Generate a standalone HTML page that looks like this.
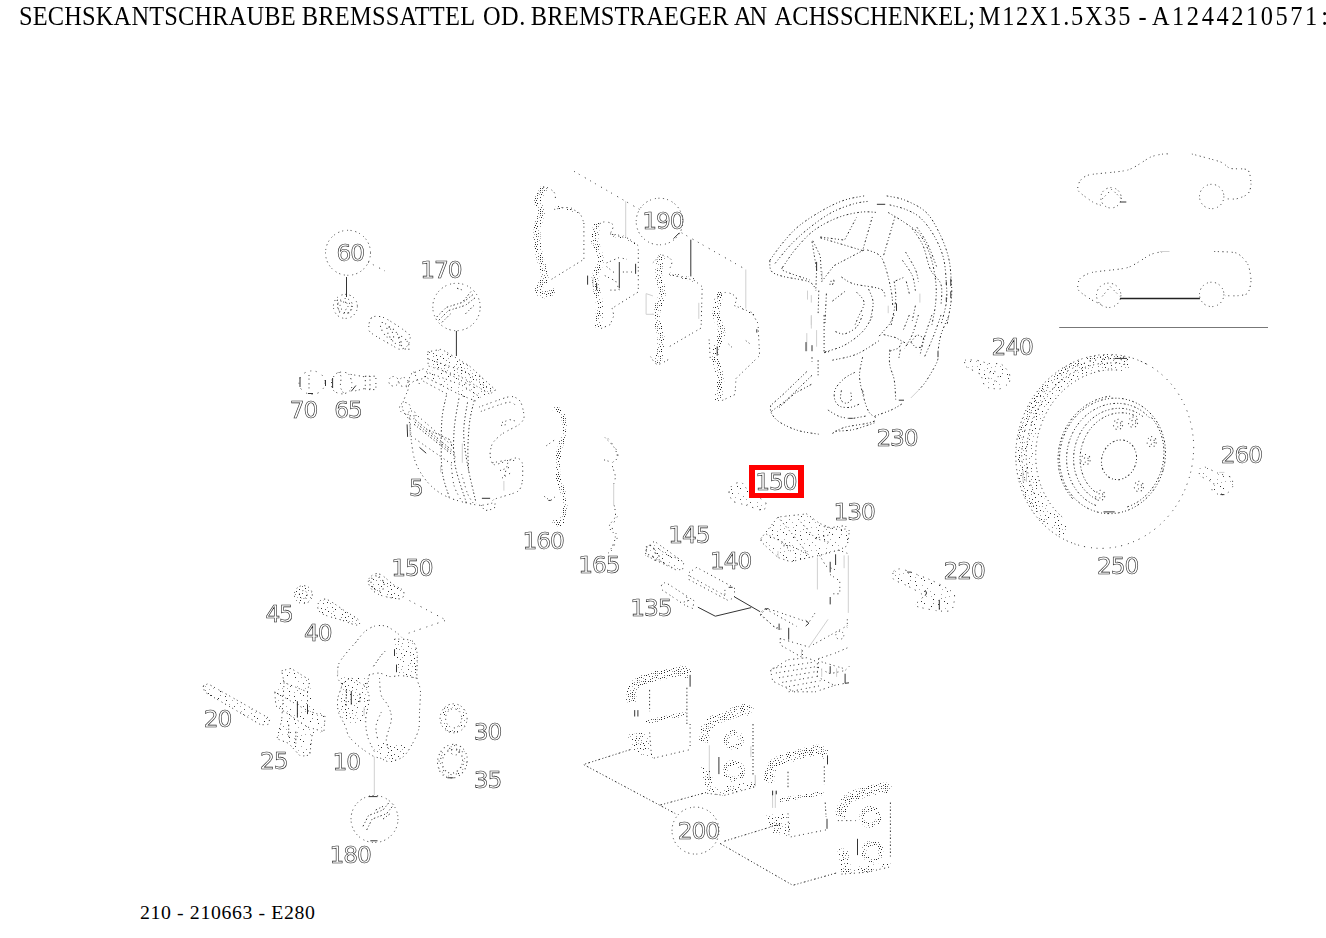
<!DOCTYPE html>
<html lang="de"><head><meta charset="utf-8"><title>SECHSKANTSCHRAUBE</title>
<style>
html,body{margin:0;padding:0;background:#fff;}
body{width:1326px;height:938px;overflow:hidden;position:relative;font-family:"Liberation Serif",serif;color:#000;}
h2{position:absolute;left:0;top:0;width:1326px;height:40px;margin:0;font-size:24.4px;line-height:28px;font-weight:normal;white-space:nowrap;transform:scaleY(1.1);transform-origin:0 25px;}
h2 span{position:absolute;top:3px;white-space:nowrap}
.foot{position:absolute;left:140px;top:901px;font-size:19.8px;line-height:22px;letter-spacing:0.62px;white-space:nowrap;}
svg{position:absolute;left:0;top:0;filter:grayscale(1);}
.hl{position:absolute;left:749px;top:465px;width:43px;height:23px;border:5px solid #f00;border-left-width:6px;border-right-width:6px;}
.lb text{font-family:"DejaVu Sans",sans-serif;font-size:23.3px;letter-spacing:-1.1px;fill:#fff;stroke:#222;stroke-width:0.6px;}
.d{fill:none;stroke:#3a3a3a;stroke-width:1;stroke-dasharray:1 2.6 1 3.6 1.2 3 1 4;}
.d2{fill:none;stroke:#333;stroke-width:1;stroke-dasharray:1.5 2.5 1 2;}
.d3{fill:none;stroke:#444;stroke-width:1;stroke-dasharray:1 4.5 1 6 1.2 5;}
.b{fill:none;stroke:url(#st0);stroke-width:7;stroke-linecap:round}
.b3{fill:none;stroke:url(#st);stroke-width:3.5;}
.bw{fill:none;stroke:url(#st);stroke-width:12;}
.f2{fill:url(#st2);stroke:none}
.bl{fill:none;stroke:url(#st2);stroke-width:15;}
.f1{fill:url(#st2);stroke:none}
.f0{fill:url(#st);stroke:none}
.f3{fill:url(#st3);stroke:none}
.b5{fill:none;stroke:url(#st0);stroke-width:5;}
.b7{fill:none;stroke:url(#st);stroke-width:7.5;}
.b4{fill:none;stroke:url(#st0);stroke-width:4;}
.b9{fill:none;stroke:url(#st0);stroke-width:10;}
.dp{fill:none;stroke:#2a2a2a;stroke-width:1;stroke-dasharray:1.8 2.2 1 2.2 1 2.4;}
.s{fill:none;stroke:#333;stroke-width:1;}
.t{fill:none;stroke:#d0d0d0;stroke-width:1;}
</style></head><body>
<h2><span style="left:19.0px;letter-spacing:0.181px">SECHSKANTSCHRAUBE</span> <span style="left:301.8px;letter-spacing:0.25px">BREMSSATTEL</span> <span style="left:483.0px;letter-spacing:0.5px">OD.</span> <span style="left:530.8px;letter-spacing:0.227px">BREMSTRAEGER</span> <span style="left:734.0px;letter-spacing:-2.0px">AN</span> <span style="left:774.6px;letter-spacing:0.092px">ACHSSCHENKEL;</span> <span style="left:978.8px;letter-spacing:1.711px">M12X1.5X35</span> <span style="left:1138.4px;letter-spacing:0.0px">-</span> <span style="left:1151.9px;letter-spacing:2.58px">A1244210571</span> <span style="left:1321.2px;letter-spacing:0.0px">:</span></h2>
<svg width="1326" height="938" viewBox="0 0 1326 938">
<defs><pattern id="st" width="23" height="23" patternUnits="userSpaceOnUse"><rect x="0" y="9" width="1" height="1" fill="#333"/><rect x="0" y="21" width="1" height="1" fill="#aaa"/><rect x="1" y="12" width="1" height="1" fill="#222"/><rect x="2" y="5" width="1" height="1" fill="#555"/><rect x="3" y="2" width="1" height="1" fill="#222"/><rect x="3" y="19" width="1" height="1" fill="#888"/><rect x="3" y="22" width="1" height="1" fill="#888"/><rect x="4" y="7" width="1" height="1" fill="#888"/><rect x="4" y="12" width="1" height="1" fill="#888"/><rect x="6" y="22" width="1" height="1" fill="#333"/><rect x="7" y="1" width="1" height="1" fill="#222"/><rect x="7" y="10" width="1" height="1" fill="#888"/><rect x="7" y="18" width="1" height="1" fill="#222"/><rect x="8" y="15" width="1" height="1" fill="#888"/><rect x="8" y="21" width="1" height="1" fill="#888"/><rect x="9" y="0" width="1" height="1" fill="#aaa"/><rect x="9" y="13" width="1" height="1" fill="#222"/><rect x="10" y="11" width="1" height="1" fill="#888"/><rect x="10" y="17" width="1" height="1" fill="#555"/><rect x="11" y="3" width="1" height="1" fill="#333"/><rect x="11" y="8" width="1" height="1" fill="#aaa"/><rect x="11" y="19" width="1" height="1" fill="#222"/><rect x="11" y="21" width="1" height="1" fill="#555"/><rect x="13" y="9" width="1" height="1" fill="#222"/><rect x="13" y="13" width="1" height="1" fill="#222"/><rect x="13" y="18" width="1" height="1" fill="#222"/><rect x="13" y="20" width="1" height="1" fill="#aaa"/><rect x="14" y="4" width="1" height="1" fill="#222"/><rect x="15" y="0" width="1" height="1" fill="#888"/><rect x="15" y="2" width="1" height="1" fill="#333"/><rect x="15" y="6" width="1" height="1" fill="#888"/><rect x="15" y="8" width="1" height="1" fill="#222"/><rect x="15" y="17" width="1" height="1" fill="#aaa"/><rect x="15" y="20" width="1" height="1" fill="#333"/><rect x="16" y="12" width="1" height="1" fill="#888"/><rect x="17" y="4" width="1" height="1" fill="#888"/><rect x="17" y="7" width="1" height="1" fill="#aaa"/><rect x="17" y="15" width="1" height="1" fill="#333"/><rect x="17" y="18" width="1" height="1" fill="#555"/><rect x="18" y="2" width="1" height="1" fill="#333"/><rect x="18" y="20" width="1" height="1" fill="#333"/><rect x="19" y="0" width="1" height="1" fill="#888"/><rect x="19" y="8" width="1" height="1" fill="#555"/><rect x="19" y="12" width="1" height="1" fill="#222"/><rect x="20" y="4" width="1" height="1" fill="#888"/><rect x="20" y="6" width="1" height="1" fill="#aaa"/><rect x="20" y="18" width="1" height="1" fill="#222"/><rect x="20" y="20" width="1" height="1" fill="#333"/><rect x="21" y="0" width="1" height="1" fill="#555"/><rect x="22" y="7" width="1" height="1" fill="#222"/><rect x="22" y="13" width="1" height="1" fill="#555"/><rect x="22" y="18" width="1" height="1" fill="#aaa"/></pattern><pattern id="st2" width="23" height="23" patternUnits="userSpaceOnUse"><rect x="0" y="14" width="1" height="1" fill="#222"/><rect x="0" y="19" width="1" height="1" fill="#222"/><rect x="1" y="2" width="1" height="1" fill="#222"/><rect x="1" y="5" width="1" height="1" fill="#555"/><rect x="1" y="22" width="1" height="1" fill="#333"/><rect x="3" y="11" width="1" height="1" fill="#555"/><rect x="3" y="18" width="1" height="1" fill="#555"/><rect x="4" y="0" width="1" height="1" fill="#aaa"/><rect x="5" y="4" width="1" height="1" fill="#333"/><rect x="5" y="9" width="1" height="1" fill="#aaa"/><rect x="6" y="13" width="1" height="1" fill="#222"/><rect x="7" y="0" width="1" height="1" fill="#aaa"/><rect x="7" y="20" width="1" height="1" fill="#333"/><rect x="8" y="5" width="1" height="1" fill="#888"/><rect x="9" y="15" width="1" height="1" fill="#888"/><rect x="10" y="2" width="1" height="1" fill="#aaa"/><rect x="10" y="9" width="1" height="1" fill="#555"/><rect x="11" y="13" width="1" height="1" fill="#aaa"/><rect x="11" y="22" width="1" height="1" fill="#888"/><rect x="12" y="5" width="1" height="1" fill="#aaa"/><rect x="12" y="17" width="1" height="1" fill="#555"/><rect x="13" y="11" width="1" height="1" fill="#222"/><rect x="15" y="7" width="1" height="1" fill="#222"/><rect x="17" y="2" width="1" height="1" fill="#555"/><rect x="17" y="21" width="1" height="1" fill="#888"/><rect x="19" y="8" width="1" height="1" fill="#555"/><rect x="19" y="11" width="1" height="1" fill="#888"/><rect x="19" y="19" width="1" height="1" fill="#888"/><rect x="20" y="4" width="1" height="1" fill="#aaa"/><rect x="20" y="16" width="1" height="1" fill="#333"/><rect x="21" y="22" width="1" height="1" fill="#aaa"/><rect x="22" y="10" width="1" height="1" fill="#333"/></pattern><pattern id="st3" width="23" height="23" patternUnits="userSpaceOnUse"><rect x="1" y="3" width="1" height="1" fill="#333"/><rect x="2" y="10" width="1" height="1" fill="#aaa"/><rect x="2" y="22" width="1" height="1" fill="#aaa"/><rect x="4" y="5" width="1" height="1" fill="#333"/><rect x="4" y="16" width="1" height="1" fill="#555"/><rect x="6" y="21" width="1" height="1" fill="#aaa"/><rect x="7" y="13" width="1" height="1" fill="#888"/><rect x="10" y="16" width="1" height="1" fill="#aaa"/><rect x="11" y="8" width="1" height="1" fill="#222"/><rect x="11" y="21" width="1" height="1" fill="#aaa"/><rect x="13" y="1" width="1" height="1" fill="#222"/><rect x="13" y="5" width="1" height="1" fill="#888"/><rect x="14" y="19" width="1" height="1" fill="#555"/><rect x="18" y="2" width="1" height="1" fill="#aaa"/><rect x="18" y="6" width="1" height="1" fill="#333"/><rect x="19" y="10" width="1" height="1" fill="#333"/><rect x="21" y="0" width="1" height="1" fill="#888"/><rect x="21" y="19" width="1" height="1" fill="#aaa"/><rect x="22" y="14" width="1" height="1" fill="#aaa"/></pattern><pattern id="st0" width="23" height="23" patternUnits="userSpaceOnUse"><rect x="0" y="4" width="1" height="1" fill="#333"/><rect x="0" y="8" width="1" height="1" fill="#555"/><rect x="0" y="16" width="1" height="1" fill="#222"/><rect x="0" y="19" width="1" height="1" fill="#888"/><rect x="1" y="0" width="1" height="1" fill="#888"/><rect x="1" y="12" width="1" height="1" fill="#333"/><rect x="1" y="14" width="1" height="1" fill="#222"/><rect x="2" y="3" width="1" height="1" fill="#222"/><rect x="2" y="8" width="1" height="1" fill="#222"/><rect x="2" y="16" width="1" height="1" fill="#888"/><rect x="4" y="2" width="1" height="1" fill="#aaa"/><rect x="4" y="7" width="1" height="1" fill="#555"/><rect x="4" y="14" width="1" height="1" fill="#222"/><rect x="4" y="18" width="1" height="1" fill="#333"/><rect x="4" y="22" width="1" height="1" fill="#aaa"/><rect x="5" y="4" width="1" height="1" fill="#aaa"/><rect x="5" y="9" width="1" height="1" fill="#555"/><rect x="5" y="16" width="1" height="1" fill="#555"/><rect x="5" y="20" width="1" height="1" fill="#333"/><rect x="6" y="1" width="1" height="1" fill="#222"/><rect x="6" y="12" width="1" height="1" fill="#555"/><rect x="6" y="14" width="1" height="1" fill="#333"/><rect x="6" y="18" width="1" height="1" fill="#222"/><rect x="7" y="4" width="1" height="1" fill="#555"/><rect x="7" y="6" width="1" height="1" fill="#555"/><rect x="7" y="16" width="1" height="1" fill="#333"/><rect x="7" y="21" width="1" height="1" fill="#333"/><rect x="8" y="9" width="1" height="1" fill="#555"/><rect x="8" y="11" width="1" height="1" fill="#555"/><rect x="8" y="14" width="1" height="1" fill="#555"/><rect x="8" y="19" width="1" height="1" fill="#222"/><rect x="9" y="0" width="1" height="1" fill="#aaa"/><rect x="9" y="3" width="1" height="1" fill="#555"/><rect x="9" y="6" width="1" height="1" fill="#888"/><rect x="10" y="10" width="1" height="1" fill="#aaa"/><rect x="11" y="2" width="1" height="1" fill="#333"/><rect x="11" y="4" width="1" height="1" fill="#333"/><rect x="11" y="6" width="1" height="1" fill="#333"/><rect x="11" y="8" width="1" height="1" fill="#888"/><rect x="11" y="13" width="1" height="1" fill="#555"/><rect x="11" y="16" width="1" height="1" fill="#222"/><rect x="11" y="19" width="1" height="1" fill="#aaa"/><rect x="12" y="0" width="1" height="1" fill="#555"/><rect x="12" y="10" width="1" height="1" fill="#222"/><rect x="13" y="4" width="1" height="1" fill="#555"/><rect x="13" y="6" width="1" height="1" fill="#aaa"/><rect x="13" y="8" width="1" height="1" fill="#555"/><rect x="13" y="15" width="1" height="1" fill="#aaa"/><rect x="13" y="17" width="1" height="1" fill="#333"/><rect x="13" y="21" width="1" height="1" fill="#888"/><rect x="14" y="2" width="1" height="1" fill="#888"/><rect x="14" y="11" width="1" height="1" fill="#aaa"/><rect x="15" y="6" width="1" height="1" fill="#555"/><rect x="15" y="17" width="1" height="1" fill="#888"/><rect x="15" y="22" width="1" height="1" fill="#888"/><rect x="16" y="1" width="1" height="1" fill="#333"/><rect x="16" y="11" width="1" height="1" fill="#333"/><rect x="16" y="13" width="1" height="1" fill="#555"/><rect x="16" y="15" width="1" height="1" fill="#555"/><rect x="17" y="4" width="1" height="1" fill="#222"/><rect x="17" y="6" width="1" height="1" fill="#222"/><rect x="17" y="18" width="1" height="1" fill="#222"/><rect x="17" y="20" width="1" height="1" fill="#888"/><rect x="18" y="10" width="1" height="1" fill="#555"/><rect x="18" y="13" width="1" height="1" fill="#aaa"/><rect x="18" y="15" width="1" height="1" fill="#aaa"/><rect x="18" y="22" width="1" height="1" fill="#888"/><rect x="19" y="1" width="1" height="1" fill="#555"/><rect x="19" y="17" width="1" height="1" fill="#333"/><rect x="20" y="3" width="1" height="1" fill="#333"/><rect x="20" y="5" width="1" height="1" fill="#222"/><rect x="20" y="8" width="1" height="1" fill="#888"/><rect x="20" y="10" width="1" height="1" fill="#333"/><rect x="20" y="14" width="1" height="1" fill="#888"/><rect x="21" y="17" width="1" height="1" fill="#555"/><rect x="21" y="19" width="1" height="1" fill="#333"/><rect x="21" y="21" width="1" height="1" fill="#555"/><rect x="22" y="2" width="1" height="1" fill="#888"/><rect x="22" y="11" width="1" height="1" fill="#aaa"/><rect x="22" y="14" width="1" height="1" fill="#555"/></pattern></defs>
<g class="lb" opacity="0.99">
<text x="336.5" y="260.6">60</text>
<text x="420.2" y="278.4">170</text>
<text x="642.3" y="229.4">190</text>
<text x="289.8" y="417.5">70</text>
<text x="334.3" y="417.5">65</text>
<text x="409.1" y="496.4">5</text>
<text x="522.5" y="549.1">160</text>
<text x="578.2" y="573.4">165</text>
<text x="755.2" y="490">150</text>
<text x="833.6" y="519.6">130</text>
<text x="668.2" y="543.1">145</text>
<text x="710.1" y="568.7">140</text>
<text x="630.2" y="615.5">135</text>
<text x="943.5" y="579.4">220</text>
<text x="876.4" y="445.8">230</text>
<text x="991.5" y="354.6">240</text>
<text x="1097.0" y="574">250</text>
<text x="1220.7" y="463.4">260</text>
<text x="391.2" y="575.5">150</text>
<text x="265.4" y="622">45</text>
<text x="304.0" y="641">40</text>
<text x="203.8" y="726.5">20</text>
<text x="260.1" y="768.7">25</text>
<text x="332.6" y="769.8">10</text>
<text x="473.8" y="740.3">30</text>
<text x="473.8" y="787.6">35</text>
<text x="329.6" y="862.6">180</text>
<text x="677.8" y="838.7">200</text>
</g>
<circle class="d" cx="348" cy="252.8" r="22.5"/>
<path class="d3" d="M368 262 L385 271"/>
<path class="s" d="M346.5 277 L346.5 297"/>
<circle class="d" cx="345.4" cy="306.4" r="12"/>
<circle class="d" cx="345" cy="306" r="7.5"/>
<circle class="d" cx="344" cy="306" r="4"/>
<path class="d" d="M337 300 L352 304 L350 313 L339 312 Z"/>
<path class="d" d="M371.2 318.1 C372.9 316.2 376 316.1 378.8 316.4 C381.6 316.7 383.3 317.1 388.2 319.9 C393.1 322.7 404.5 330.2 408.1 333.4 C411.7 336.6 410.1 337 409.9 339.2 C409.7 341.4 408.7 344.6 406.9 346.3 C405.1 348 401.8 349.4 399.3 349.2 C396.8 349 396.3 347.7 391.7 345.1 C387.1 342.5 375.6 336.3 371.8 333.4 C368 330.5 368.9 330.1 368.8 327.5 C368.7 324.9 369.5 320 371.2 318.1 Z"/>
<ellipse class="d" cx="387" cy="331" rx="4" ry="10" transform="rotate(-35 387 331)"/>
<ellipse class="d" cx="394" cy="336" rx="4" ry="11" transform="rotate(-35 394 336)"/>
<ellipse class="d" cx="404" cy="343" rx="3.5" ry="8" transform="rotate(-35 404 343)"/>
<ellipse class="d3" cx="312" cy="382.6" rx="13" ry="11.7"/>
<path class="s" d="M300 377 L300 387"/>
<path class="s" d="M325.5 380 L325.5 386"/>
<path class="s" d="M308 393.5 L313 393.5"/>
<path class="d" d="M309 375 L309 392"/>
<path class="d" d="M331.9 380.3 C332.5 378.1 334 375.8 335.4 374.4 C336.8 373 338 372.2 340.1 372.1 C342.2 372 346.4 372.1 348.3 373.8 C350.2 375.6 351.4 380 351.8 382.6 C352.2 385.2 352.1 387.7 350.7 389.6 C349.3 391.5 346.2 393.4 343.6 393.8 C341.1 394.2 337.3 393.1 335.4 392 C333.4 390.9 332.5 389.2 331.9 387.3 C331.3 385.4 331.3 382.5 331.9 380.3 Z"/>
<path class="d" d="M338.9 372.1 L341.3 376.8 L340.1 387.3 L343.6 393.2"/>
<path class="s" d="M351.2 391.4 L355.9 385.5"/>
<path class="s" d="M332.6 378 L332.6 388"/>
<path class="d" d="M350.7 374.4 L364.7 376.8"/>
<path class="d" d="M355.3 390.8 L364.7 388.5"/>
<path class="d" d="M365.3 376.2 L375.9 376.2 L375.9 389.6 L365.3 389.6 Z"/>
<path class="d" d="M370 376 L370 390"/>
<circle class="d" cx="456.5" cy="307" r="23.7"/>
<path class="d2" d="M436.7 317 L446.3 307.4 L463.4 302.1 L473 294.6"/>
<path class="d2" d="M438.8 320.2 L448.4 310.6 L465.5 305.3 L475.1 297.8"/>
<path class="d2" d="M457 288.2 L463.4 290.4"/>
<path class="d2" d="M463.4 301 L471.9 290.4"/>
<path class="d2" d="M465.5 313.8 L474 305.3"/>
<path class="d2" d="M442 322.3 L450.6 313.8"/>
<path class="s" d="M456.4 331 L456.4 356"/>
<path class="d" d="M427.6 351.9 L441.6 349.2 L469.4 365.9 L495.9 390.3 L489.6 394.1 L460.8 376.5 L428.2 365.9 Z"/>
<path class="f2" d="M428.2 352.5 L441.6 350 L469.4 366.5 L495.3 390.3 L489.6 393.7 L460.8 376.1 L428.7 365.3 Z"/>
<path class="f3" d="M424.3 368.8 L461.7 377.4 L489.6 394.7 L477.1 401.8 L461.7 396 L424.3 378 Z"/>
<path class="d" d="M428.7 359.2 L465.6 371.7 L492.4 391.8"/>
<path class="d" d="M426.2 371.7 L461.7 385.1 L480.9 397.6"/>
<path class="d" d="M442.6 370.7 L475.2 388"/>
<path class="d" d="M423.4 368.8 L409.9 374.5 L408 389.9"/>
<path class="d" d="M424.3 376.5 L461.7 395.6 L477.1 401.4"/>
<path class="d" d="M423.4 381.2 L448.3 394.7"/>
<path class="d" d="M413.8 371.7 L419.5 384.1"/>
<circle class="d" cx="393.6" cy="381.3" r="4.8"/>
<circle class="d" cx="403.5" cy="382" r="4.5"/>
<circle class="d" cx="405" cy="408" r="5.5"/>
<circle class="d" cx="412" cy="415" r="4"/>
<path class="d" d="M406.1 387 L413.8 381.2 L423.4 378.4"/>
<path class="d" d="M408 389.9 C407.1 392.8 402.1 402 402.3 407.1 C402.5 412.2 407.6 415.5 409 420.6 C410.4 425.7 409.8 430.8 410.9 437.8 C412 444.8 412.7 455.1 415.7 462.8 C418.7 470.5 423.7 478.1 429.1 483.9 C434.5 489.6 440.3 493.8 448.3 497.3 C456.3 500.8 469.8 504 477.1 505 C484.5 506 489.8 503.4 492.4 503.1"/>
<path class="d" d="M479 407.1 C482.6 405.9 504.9 397.3 509.7 396.6 C514.5 395.9 518.6 399.1 520.3 401.4 C522 403.7 524.2 414 524.1 416.7 C524 419.4 521.9 422.4 519.3 424.4 C516.7 426.4 505.1 431.8 502 434 C498.9 436.2 493.8 441.1 492.4 443.6 C491 446.1 489.9 452.6 490.1 455.1 C490.3 457.6 491.4 464.4 494.4 464.7 C497.4 465 512.3 458.2 515.5 458 C518.7 457.8 521.4 460 522.2 462.8 C523 465.6 522.8 478.6 522.2 482 C521.6 485.4 520.6 489.6 517.4 491.6 C514.2 493.6 497.3 497.9 494.4 499.2 C491.5 500.5 492.6 502.6 492.4 503.1"/>
<path class="d" d="M480.9 411.4 C485.4 409.9 502 403.4 507.8 402.4 C513.6 401.4 514.2 404.7 515.5 405.2"/>
<path class="d" d="M502 422.5 L509.7 419.6 L517.4 421.5"/>
<path class="d" d="M501.1 425.4 L507.8 424.4"/>
<path class="d" d="M492.4 462.8 L507.8 459.9 L517.4 460.9"/>
<path class="d" d="M500.1 470.5 L511.6 466.6"/>
<path class="d" d="M502 478.1 L511.6 472.4"/>
<path class="d" d="M507.8 462.8 L503.9 478.1"/>
<path class="d2" d="M446.4 395.6 C445.7 399.1 443.1 408.1 442.2 416.7 C441.3 425.3 441.1 437.8 441.2 447.4 C441.3 457 441.2 466 442.6 474.3 C444 482.6 448.2 493.5 449.3 497.3"/>
<path class="d2" d="M458.9 398.5 C458.1 403.8 454.8 419.2 454.1 430.2 C453.5 441.2 452.9 452.5 455 464.7 C457.1 476.9 464.6 496.7 466.5 503.1"/>
<path class="d2" d="M467.5 402.4 C466.9 407.3 463.7 421.7 463.7 432.1 C463.7 442.5 465.4 452.9 467.5 464.7 C469.6 476.5 474.7 496.7 476.1 503.1"/>
<path class="d2" d="M474.2 400.4 C473.5 403.8 470.9 412.8 469.8 420.6 C468.8 428.4 468.1 439.1 467.9 447.4 C467.7 455.7 468.5 466.6 468.6 470.5"/>
<path class="d" d="M451.2 464.7 C451.7 468.2 452.4 479.7 454.1 485.8 C455.9 491.9 460.4 498.6 461.7 501.2"/>
<path class="d" d="M461.7 474.3 C462.7 477.5 465.6 488.7 467.5 493.5 C469.4 498.3 472.2 501.5 473.2 503.1"/>
<path class="d" d="M409.9 415.8 L417.6 415.8 L453.1 446.5 L455.6 460.9 L450.2 463.2 L410.9 435.9 Z"/>
<path class="d2" d="M415.4 419.8 L452 450.3"/>
<path class="d2" d="M414.8 422 L451.6 452.2"/>
<path class="d2" d="M414.1 424.3 L451.4 454.2"/>
<path class="d2" d="M429.1 430.2 L450.2 439.8 L452.1 447.4"/>
<path class="s" d="M481.9 498.3 L490.1 498.3"/>
<path class="s" d="M419.5 447.4 L426.2 453.2"/>
<path class="t" d="M503.9 481 L503.9 490.6"/>
<path class="t" d="M462.3 443.6 L462.3 462.8"/>
<path class="t" d="M440.6 465.7 L440.6 472.4"/>
<path class="s" d="M407.1 424.4 L407.6 436.9"/>
<path class="t" d="M409.6 424.4 L410.1 436.9"/>
<path class="d" d="M480.9 505 L484.8 510.7 L494.4 508.8 L495.3 502.1"/>
<path class="d3" d="M574 171.3 L641.1 210.3"/>
<path class="t" d="M625.7 201.3 L625.7 237.5"/>
<path class="b" d="M543.1 189.5 C542.2 191.5 538 197.5 537.7 201.3 C537.4 205.1 541.4 207.1 541.3 212.2 C541.1 217.3 537.1 224.8 536.8 232.1 C536.5 239.3 538.1 248.1 539.5 255.7 C540.9 263.2 545 272 544.9 277.4 C544.8 282.8 539 285.4 538.6 288.3 C538.2 291.2 539.9 294.1 542.2 294.7 C544.5 295.3 550.5 292.4 552.2 291.9"/>
<path class="d" d="M537.7 194 C538.9 192.8 542.2 187.4 544.9 187.1 C547.6 186.8 552.2 190.1 554 192.2 C555.8 194.3 555.2 198.3 555.5 199.5"/>
<path class="d" d="M554 209.4 C555.7 209.2 563.3 207.1 566.7 207.6 C570.1 208.1 577.1 211 579.4 213.1 C581.7 215.2 583.3 221.7 583.9 223"/>
<path class="d" d="M583.9 223 L583.9 259.3 L548.6 281.1"/>
<path class="b3" d="M555.8 207.6 C557.9 207.8 564.6 207.6 568.5 208.5 C572.4 209.4 577.6 212.3 579.4 213.1"/>
<path class="b" d="M596.6 225.8 C596.3 228.4 594.2 235.6 594.8 241.2 C595.4 246.8 600.3 252.7 600.3 259.3 C600.3 266 594.9 273.9 594.8 281.1 C594.6 288.4 598.8 295.6 599.4 302.8 C600 310.1 598.6 321 598.4 324.6"/>
<path class="d" d="M593.6 229.4 C595.2 228.2 599.8 222.9 603 222.1 C606.2 221.3 611.8 222.8 613 224.8 C614.2 226.8 610.7 232.4 610.2 233.9"/>
<path class="d" d="M610.2 233.9 L628.4 238.4 L638.3 245.7 L638.3 291.9 L612.1 308.3 L613.9 315.5 L610.2 324.6 L597.5 330"/>
<path class="b3" d="M612.1 234.8 C614.5 235.4 622.7 236.9 626.6 238.4 C630.5 239.9 634.1 243 635.6 243.9"/>
<path class="d" d="M606.6 262.9 L619.3 257.5 L626.6 259.3"/>
<path class="d" d="M604.8 275.6 L615.7 281.1 L619.3 290.1 L610.2 290.1"/>
<path class="d" d="M606.6 266.6 L615.7 273.8"/>
<path class="d" d="M622.9 272 L632 272"/>
<path class="s" d="M619.3 262 L619.3 288.3"/>
<path class="s" d="M635.6 263.8 L635.6 273.8"/>
<path class="s" d="M587.6 275.6 L587.6 284.7"/>
<path class="t" d="M593 277.4 L593 286.5"/>
<path class="s" d="M596.6 282.9 L596.6 290.1"/>
<circle class="d" cx="659.5" cy="221.5" r="23.3"/>
<path class="d3" d="M681.6 232.8 L745.8 269.5"/>
<path class="t" d="M745.8 269.5 L745.8 308.5"/>
<path class="s" d="M690.8 239.7 L690.8 276.4"/>
<path class="s" d="M673.6 238.6 L679.3 232.8"/>
<path class="b" d="M661 258.1 C660.6 261 658.5 269.4 658.7 275.3 C658.9 281.2 662.5 287.1 662.1 293.6 C661.7 300.1 656.6 307 656.4 314.3 C656.2 321.6 660.6 329.6 661 337.2 C661.4 344.8 659.1 356.3 658.7 360.1"/>
<path class="d" d="M652.9 262.7 C654.4 261.5 659 255.7 662.1 255.3 C665.2 254.9 670.5 258 671.7 260.4 C672.9 262.8 669.8 268 669.4 269.5"/>
<path class="d" d="M669 274.1 L694.2 280.3 L702.2 286.7 L701.1 328 L667.8 347.5"/>
<path class="b3" d="M670.1 274.1 C672.6 274.7 680.6 276.5 685 277.6 C689.4 278.8 694.6 280.4 696.5 281"/>
<path class="t" d="M646.1 293.6 L646.1 314.3 L654.1 314.3"/>
<path class="t" d="M646.1 293.6 L652.9 295.9"/>
<path class="t" d="M698.8 302.8 L698.8 318.9"/>
<path class="d" d="M650.6 356.7 C651.8 358 654.4 363.9 657.5 364.3 C660.6 364.7 667.4 359.9 669.4 359"/>
<path class="b" d="M719.9 294.8 C719.2 298.1 715.7 308 716 314.3 C716.3 320.6 721.9 325.7 721.7 332.6 C721.5 339.5 715.1 348 714.9 355.6 C714.7 363.2 720 371.4 720.6 378.5 C721.2 385.6 718.7 394.8 718.3 398"/>
<path class="d" d="M714.4 299.4 C716.2 298.2 721.6 292.9 725.2 292.5 C728.8 292.1 734.5 294.9 736 297.1 C737.5 299.3 734.7 304.2 734.4 305.6"/>
<path class="d" d="M734.4 305.6 L751.6 312.4 L758 323.4 L759.6 355.6 L736 378.5 L735 394.5 L721.7 400.7"/>
<path class="b3" d="M736.7 306.2 C738.4 307 744.1 309.3 747 310.8 C749.9 312.3 752.8 314.6 753.9 315.4"/>
<path class="s" d="M717.2 346.4 L717.2 355.6"/>
<path class="d" d="M709.1 339.5 L710.3 360.1"/>
<path class="d" d="M728.6 344.1 L732.1 347.5"/>
<path class="d" d="M745.8 340.6 L750.4 344.1"/>
<path class="s" d="M756.8 329.2 L756.8 332.6"/>
<path class="dp" d="M769.8 260.4 C771.9 257.5 777.7 248.9 782.6 243.1 C787.5 237.3 792.4 231.2 799.2 225.7 C806 220.2 815.8 214.2 823.3 209.9 C830.8 205.6 837.7 202.4 844.5 200.1 C851.3 197.8 860.8 196.6 864.1 195.9"/>
<path class="dp" d="M886.7 195.9 C889.7 196.6 898.3 197.4 904.8 200.1 C911.3 202.8 920.1 206.6 925.9 212.1 C931.7 217.6 935.7 225.8 939.5 233.3 C943.3 240.9 946.5 249.4 948.5 257.4 C950.5 265.4 950.8 274.5 951.3 281.5 C951.8 288.5 952 292.4 951.3 299.6 C950.6 306.9 947.7 320.8 947 325"/>
<path class="dp" d="M775.1 263.4 C777.6 260.4 784.7 251.1 790.2 245.3 C795.7 239.5 801.5 234.1 808.3 228.7 C815.1 223.3 823.4 217 830.9 212.9 C838.4 208.8 847.2 205.8 853.5 203.9 C859.8 202 866.1 201.7 868.6 201.3"/>
<path class="s" d="M876.9 204.3 L885.2 204.3"/>
<path class="dp" d="M889.7 204.9 C892.2 205.6 899.8 207 904.8 209.1 C909.8 211.2 915.1 213.1 919.9 217.4 C924.7 221.7 929.6 228.1 933.5 234.8 C937.4 241.5 941.2 249.4 943.3 257.4 C945.4 265.4 945.8 275.5 946.3 283 C946.8 290.5 947.2 295.6 946.3 302.6 C945.4 309.6 941.9 321.3 941 325"/>
<path class="dp" d="M782.6 267.2 C784.9 264.1 790.9 254.5 796.2 248.3 C801.5 242.1 807.3 235.3 814.3 230.2 C821.3 225 830.6 220.4 838.4 217.4 C846.2 214.4 854.6 212.9 861.1 212.1 C867.6 211.3 874.9 212.4 877.6 212.5"/>
<path class="dp" d="M888.2 212.5 C891 214.2 899.5 219 904.8 222.7 C910.1 226.4 915.6 229.3 919.9 234.8 C924.2 240.3 927.8 248.1 930.4 255.9 C933 263.7 934.8 273.7 935.7 281.5 C936.6 289.3 936.3 295.4 935.7 302.6 C935.1 309.9 932.5 321.3 931.9 325"/>
<path class="dp" d="M912.3 228.7 C914.1 231.5 919.9 238.5 922.9 245.3 C925.9 252.1 927.4 263 930.4 269.5 C933.4 276 939.2 278.5 941 284.5 C942.8 290.5 941 302.2 941 305.7"/>
<path class="dp" d="M916.9 227.2 C918.6 230 924.1 237.3 927.4 243.8 C930.7 250.3 935 262.6 936.5 266.4"/>
<path class="dp" d="M769.8 260.4 C770 262.2 769.2 268.4 771.3 271 C773.4 273.6 776.4 274.6 782.6 276.3 C788.8 278.1 802.8 279.4 808.3 281.5 C813.8 283.6 814.5 287.8 815.8 289.1"/>
<path class="dp" d="M782.6 267.2 C782.9 267.8 779.6 268.9 784.1 271 C788.6 273.1 805.5 278.5 809.8 280"/>
<path class="dp" d="M820.3 237 L844.5 240.1 L856.5 217.4"/>
<path class="dp" d="M820.3 237.8 L862.6 250.6 L872.4 216.7"/>
<path class="dp" d="M864.1 249.9 L833.9 265.7 L821.8 281.5"/>
<path class="dp" d="M867.1 249.9 C869.1 250.8 876.2 252.3 879.2 255.1 C882.2 257.8 883.2 260.5 885.2 266.4 C887.2 272.3 890 284.1 891.2 290.6 C892.5 297.2 892.5 303.2 892.7 305.7"/>
<path class="dp" d="M883.7 255.1 L895 216.7"/>
<path class="d2" d="M812.8 240.8 L820.3 255.9 L821.8 281.5"/>
<path class="d2" d="M812 241.6 L816.6 269.5 L815.8 290.6"/>
<path class="s" d="M816.6 261.9 L816.6 271"/>
<path class="t" d="M822.1 271 L822.1 281.5"/>
<path class="dp" d="M841.4 277 C843.4 278.1 847 281.8 853.5 283.8 C860 285.8 875.4 286.7 880.7 289.1 C886 291.5 884.5 296.6 885.2 298.1"/>
<path class="dp" d="M832.4 301.1 L846 290.6"/>
<path class="dp" d="M905.6 252.1 C907.2 255 913.3 264.6 915.4 269.5 C917.5 274.4 917.9 279.5 918.4 281.5"/>
<path class="dp" d="M902.5 260.4 C904.1 262.9 910.1 270.5 912.3 275.5 C914.4 280.5 914.9 288.1 915.4 290.6"/>
<path class="dp" d="M895.7 280.8 L904.8 277"/>
<path class="dp" d="M906.3 281.5 L909.3 293.6"/>
<path class="dp" d="M856.5 292.1 C857.8 293.9 863.9 298.3 864.1 302.6 C864.4 306.9 859.5 314 858 317.7 C856.5 321.4 855.5 323.8 855 325"/>
<path class="dp" d="M868.6 289.1 C869.4 291.4 872.9 297.3 873.1 302.6 C873.4 307.9 870.6 317.7 870.1 320.7"/>
<path class="d2" d="M818.8 290.6 L818.1 314.7"/>
<path class="dp" d="M826.4 293.6 L824.9 325"/>
<path class="t" d="M807.5 290.6 L807.5 299.6"/>
<path class="t" d="M811.3 295.1 L811.3 302.6"/>
<path class="t" d="M811.3 316.2 L811.3 325"/>
<path class="s" d="M896.5 303.4 L896.5 310.9"/>
<path class="t" d="M888.2 305.7 L888.2 313.2"/>
<path class="t" d="M919.9 293.6 L919.9 302.6"/>
<path class="s" d="M946.3 281.5 L946.3 284.5"/>
<path class="s" d="M950.8 278.5 L950.8 286.1"/>
<path class="s" d="M950.8 291.3 L950.8 298.1"/>
<path class="s" d="M946.3 297.4 L946.3 301.1"/>
<ellipse class="dp" cx="832" cy="282.5" rx="1.5" ry="3" transform="rotate(30 832 282.5)"/>
<path class="dp" d="M894.2 281.5 C894.5 284.5 896.2 292.4 895.7 299.6 C895.2 306.9 892 320.8 891.2 325"/>
<path class="dp" d="M915.4 305.7 L912.3 320.7"/>
<path class="dp" d="M948.5 316.5 C947.2 319.5 942.8 328.8 941 334.6 C939.2 340.4 938.5 348.4 938 351.2"/>
<path class="s" d="M938 351.2 L938 357.2"/>
<path class="dp" d="M938 358.7 C937.6 359.7 937.7 361 935.7 364.8 C933.7 368.6 928.8 377.1 925.9 381.4 C923 385.7 919.6 388.9 918.4 390.4"/>
<path class="t" d="M918.4 390.4 L910.8 398"/>
<path class="dp" d="M941 315 C939.8 318.5 936.3 329.1 933.5 336.1 C930.7 343.1 925.9 353.7 924.4 357.2"/>
<path class="dp" d="M931.9 315 C930.6 318.8 926.4 330.8 924.4 337.6 C922.4 344.4 920.6 352.7 919.9 355.7"/>
<path class="dp" d="M918.4 315 C917.4 318.3 914.6 329.1 912.3 334.6 C910 340.1 906 345.9 904.8 348.2"/>
<path class="dp" d="M909.3 315 L903.3 330.1"/>
<path class="dp" d="M835.4 331.6 C836.9 332 841 334.6 844.5 333.9 C848 333.1 853.5 330.2 856.5 327.1 C859.5 324 861.6 317 862.6 315"/>
<path class="dp" d="M824.9 352 C828.2 350.9 838.2 348.6 844.5 345.2 C850.8 341.8 857.8 336.6 862.6 331.6 C867.4 326.6 871.4 317.8 873.1 315"/>
<path class="dp" d="M879.2 336.1 L889.7 324 L894.2 315"/>
<path class="dp" d="M832.4 360.2 C836.4 359.2 848.7 357.5 856.5 354.2 C864.3 350.9 875.4 342.9 879.2 340.6"/>
<path class="dp" d="M862.6 357.2 C862.1 360.2 859.5 369.3 859.5 375.3 C859.5 381.3 861.1 387.4 862.6 393.4 C864.1 399.4 866.4 407.5 868.6 411.5 C870.9 415.5 874.9 416.6 876.1 417.6"/>
<path class="dp" d="M889.7 349.7 C889.7 352.2 889 359.8 889.7 364.8 C890.5 369.8 893.2 374.1 894.2 379.9 C895.2 385.7 895.5 396.2 895.7 399.5"/>
<path class="s" d="M898.8 400.2 L904 400.2"/>
<path class="dp" d="M901.8 404 C900 405 895.7 408 891.2 410 C886.7 412 877.4 415.1 874.6 416.1"/>
<path class="dp" d="M910.8 342.1 L915.4 347.4 L921.4 347.4 L923.7 337.6 L916.9 334.6 Z"/>
<path class="dp" d="M889.7 351.2 L898.8 348.2 L901.8 342.1"/>
<path class="dp" d="M900.3 349.7 L898.8 358.7"/>
<path class="dp" d="M883.7 334.6 L895.7 337.6 L909.3 345.2"/>
<path class="dp" d="M855 372.3 C853.2 373.3 847.8 375.5 844.5 378.3 C841.2 381.1 837 385.4 835.4 388.9 C833.8 392.4 834 396.6 834.7 399.5 C835.5 402.4 837.3 405 839.9 406.3 C842.5 407.6 847.2 407.7 850.5 407.3 C853.8 406.9 858 404.6 859.5 404"/>
<path class="dp" d="M841.4 390.4 C841.3 391.9 839.9 397.4 840.7 399.5 C841.5 401.6 844.2 403.2 846 403.2 C847.8 403.2 850.5 401.6 851.3 399.5 C852 397.4 850.6 391.9 850.5 390.4"/>
<path class="dp" d="M827.9 410 C829.6 411 835.1 414.7 838.4 416.1 C841.7 417.5 846 417.9 847.5 418.3"/>
<path class="s" d="M848.2 418.3 L852.8 418.3"/>
<path class="dp" d="M853.5 418.3 L865.6 416.1"/>
<path class="d2" d="M824.1 315 L824.1 352.7"/>
<path class="d2" d="M818.1 360.2 L818.1 375.3"/>
<path class="d2" d="M812 357.2 L812 361.8"/>
<path class="t" d="M811.3 315 L811.3 328.6"/>
<path class="t" d="M816.6 330.1 L816.6 346.7"/>
<path class="t" d="M806.8 333.1 L806.8 351.2"/>
<path class="s" d="M806 342.1 L806 351.2"/>
<path class="s" d="M812 345.2 L812 351.2"/>
<path class="dp" d="M824.1 352.7 L830.9 351.2"/>
<path class="dp" d="M806.8 371.6 L782.6 394.9 L770.6 405.5"/>
<path class="dp" d="M812 375.3 L787.1 399.5 L771.3 411.5"/>
<path class="dp" d="M811.3 384.4 L794.7 393.4 L778.1 408.5"/>
<path class="dp" d="M770.6 405.5 C770.7 406.8 769.8 410.2 771.3 413 C772.8 415.8 775.2 419.2 779.6 422.1 C784 425 791.2 428.4 797.7 430.4 C804.2 432.4 815.3 433.6 818.8 434.2"/>
<path class="dp" d="M832.4 433.4 C834.4 432.4 839 429 844.5 427.4 C850 425.8 860.3 424.7 865.6 423.6 C870.9 422.5 874.4 421.1 876.1 420.6"/>
<path class="dp" d="M835.4 431.1 C838.4 430.9 847 431 853.5 429.6 C860 428.2 871.1 423.9 874.6 422.8"/>
<path class="dp" d="M862.6 390.4 L864.1 396.4"/>
<path class="d3" d="M1141.3 361.4 L1147.3 364.4 L1153.2 367.9 L1158.7 371.9 L1164 376.4 L1168.8 381.3 L1173.4 386.6 L1177.5 392.3 L1181.2 398.4 L1184.4 404.7 L1187.2 411.3 L1189.5 418.2 L1191.3 425.2 L1192.6 432.4 L1193.4 439.7 L1193.7 447.1 L1193.4 454.5 L1192.7 461.9 L1191.4 469.2 L1189.6 476.5 L1187.3 483.5 L1184.6 490.4 L1181.4 497.1 L1177.7 503.5 L1173.6 509.6 L1169.1 515.3 L1164.2 520.7 L1159 525.7 L1153.5 530.2 L1147.7 534.3 L1141.6 537.9 L1135.3 541 L1128.8 543.5 L1122.2 545.6 L1115.5 547.1 L1108.8 548 L1102 548.4 L1095.2 548.2 L1088.5 547.4 L1081.9 546.1 L1075.4 544.2"/>
<path class="d" d="M1075.4 544.2 L1068.5 541.6 L1061.9 538.3 L1055.6 534.4 L1049.6 530 L1044 525 L1038.8 519.6 L1034.1 513.6 L1029.9 507.2 L1026.1 500.5 L1022.9 493.4 L1020.3 486 L1018.3 478.4 L1016.8 470.6 L1016 462.6 L1015.7 454.6 L1016.1 446.6 L1017.1 438.6 L1018.7 430.7 L1020.8 422.9 L1023.6 415.3 L1026.9 408 L1030.7 401 L1035.1 394.3 L1039.9 388 L1045.2 382.1 L1050.9 376.7 L1056.9 371.9 L1063.3 367.6 L1069.9 363.8 L1076.8 360.7 L1083.9 358.1 L1091.2 356.3 L1098.5 355 L1105.9 354.5 L1113.2 354.6 L1120.5 355.3 L1127.7 356.8 L1134.8 358.8 L1141.6 361.6 L1148.2 364.9"/>
<path class="bl" d="M1066.5 530.9 L1061.4 527.8 L1056.6 524.3 L1052.1 520.4 L1047.9 516.1 L1043.9 511.5 L1040.3 506.5 L1037.1 501.3 L1034.2 495.8 L1031.7 490 L1029.6 484.1 L1027.9 478 L1026.6 471.7 L1025.7 465.3 L1025.3 458.9 L1025.3 452.4 L1025.7 445.9 L1026.5 439.5 L1027.8 433.1 L1029.5 426.8 L1031.6 420.6 L1034.1 414.6 L1037 408.8 L1040.2 403.2 L1043.8 397.9 L1047.7 392.8 L1052 388.1 L1056.5 383.7 L1061.3 379.7 L1066.3 376 L1071.5 372.8 L1076.9 369.9 L1082.5 367.5 L1088.2 365.6 L1094 364.1 L1099.9 363 L1105.8 362.5 L1111.7 362.4 L1117.5 362.7 L1123.3 363.6 L1129.1 364.9"/>
<path class="b3" d="M1044.5 522.3 L1040.6 518 L1036.9 513.5 L1033.6 508.7 L1030.6 503.7 L1027.8 498.5 L1025.4 493.1 L1023.4 487.5 L1021.6 481.7 L1020.3 475.8 L1019.2 469.8 L1018.6 463.8 L1018.2 457.7 L1018.3 451.5 L1018.7 445.4 L1019.5 439.3 L1020.6 433.2 L1022.1 427.3 L1023.9 421.4 L1026.1 415.6 L1028.6 410 L1031.4 404.6 L1034.6 399.3 L1038 394.3 L1041.7 389.5 L1045.7 385 L1049.9 380.7 L1054.3 376.8 L1059 373.1 L1063.8 369.8 L1068.9 366.8 L1074 364.2 L1079.3 361.9 L1084.7 360.1 L1090.2 358.5 L1095.8 357.4 L1101.4 356.7 L1107 356.4 L1112.6 356.4 L1118.2 356.9 L1123.7 357.7"/>
<path class="d" d="M1062.1 516.9 L1058.6 513.7 L1055.3 510.2 L1052.2 506.4 L1049.4 502.5 L1046.8 498.3 L1044.4 493.9 L1042.3 489.4 L1040.5 484.6 L1039 479.8 L1037.7 474.9 L1036.8 469.8 L1036.1 464.7 L1035.8 459.5 L1035.7 454.3 L1035.9 449 L1036.5 443.8 L1037.3 438.6 L1038.4 433.5 L1039.9 428.4 L1041.6 423.5 L1043.5 418.6 L1045.8 413.9 L1048.3 409.3 L1051 404.9 L1054 400.7 L1057.2 396.7 L1060.7 393 L1064.3 389.5 L1068.1 386.2 L1072.1 383.2 L1076.2 380.5 L1080.4 378 L1084.8 375.9 L1089.3 374.1 L1093.8 372.6 L1098.5 371.4 L1103.1 370.5 L1107.8 370 L1112.5 369.9 L1117.1 370"/>
<path class="d" d="M1034.1 493.4 L1032.3 488.9 L1030.6 484.3 L1029.3 479.5 L1028.2 474.7 L1027.3 469.9 L1026.7 464.9 L1026.3 459.9 L1026.2 454.9 L1026.4 449.9 L1026.8 444.9 L1027.5 439.9 L1028.4 434.9 L1029.6 430 L1031 425.2 L1032.7 420.4 L1034.6 415.8 L1036.8 411.2 L1039.1 406.8 L1041.7 402.6 L1044.5 398.4 L1047.5 394.5 L1050.7 390.7 L1054.1 387.2 L1057.6 383.8 L1061.3 380.7 L1065.1 377.8 L1069.1 375.1 L1073.2 372.7 L1077.4 370.5 L1081.7 368.6 L1086.1 366.9 L1090.5 365.6 L1095 364.5 L1099.6 363.6 L1104.1 363.1 L1108.7 362.9 L1113.2 362.9 L1117.8 363.2 L1122.3 363.8 L1126.7 364.7"/>
<path class="d3" d="M1024.9 480.3 L1023.8 475.7 L1022.9 471 L1022.3 466.2 L1021.9 461.4 L1021.7 456.6 L1021.8 451.8 L1022.1 446.9 L1022.6 442.1 L1023.4 437.3 L1024.4 432.5 L1025.6 427.8 L1027 423.1 L1028.6 418.6 L1030.5 414.1 L1032.6 409.7 L1034.8 405.4 L1037.3 401.3 L1039.9 397.3 L1042.8 393.4 L1045.8 389.7 L1049 386.2 L1052.3 382.8 L1055.8 379.7 L1059.4 376.7 L1063.1 374 L1067 371.4 L1071 369.1 L1075 367 L1079.2 365.1 L1083.4 363.5 L1087.7 362.1 L1092 360.9 L1096.4 360 L1100.8 359.4 L1105.2 359 L1109.6 358.8 L1114.1 358.9 L1118.5 359.3 L1122.8 359.9 L1127.1 360.8"/>
<path class="dp" d="M1163.1 470.4 L1161.1 476.2 L1158.6 481.7 L1155.6 487 L1152.2 491.9 L1148.3 496.4 L1144 500.5 L1139.3 504.1 L1134.4 507.2 L1129.2 509.7 L1123.9 511.6 L1118.4 512.9 L1112.9 513.6 L1107.3 513.6 L1101.8 513.1 L1096.5 511.8 L1091.3 510 L1086.3 507.6 L1081.6 504.6 L1077.3 501.1 L1073.3 497.1 L1069.8 492.6 L1066.7 487.8 L1064.2 482.6 L1062.2 477.1 L1060.7 471.3 L1059.8 465.4 L1059.5 459.4 L1059.7 453.4 L1060.5 447.3 L1061.9 441.4 L1063.9 435.6 L1066.4 430.1 L1069.4 424.8 L1072.8 419.9 L1076.7 415.4 L1081 411.3 L1085.7 407.7 L1090.6 404.6 L1095.8 402.1 L1101.1 400.2 L1106.6 398.9 L1112.1 398.2 L1117.7 398.2 L1123.2 398.7 L1128.5 400 L1133.7 401.8 L1138.7 404.2 L1143.4 407.2 L1147.7 410.7 L1151.7 414.7 L1155.2 419.2 L1158.3 424 L1160.8 429.2 L1162.8 434.7 L1164.3 440.5 L1165.2 446.4 L1165.5 452.4 L1165.3 458.4 L1164.5 464.5 L1163.1 470.4"/>
<path class="dp" d="M1096 505.5 L1092.1 503.8 L1088.4 501.6 L1084.9 499.1 L1081.7 496.2 L1078.7 493.1 L1076 489.6 L1073.6 485.9 L1071.5 481.9 L1069.8 477.7 L1068.4 473.3 L1067.4 468.8 L1066.8 464.2 L1066.6 459.5 L1066.7 454.8 L1067.2 450.1 L1068.1 445.5 L1069.4 440.9 L1071 436.5 L1073 432.2 L1075.3 428.1 L1078 424.2 L1080.9 420.6 L1084.1 417.2 L1087.5 414.2 L1091.2 411.5 L1095 409.2 L1099 407.2 L1103.1 405.6 L1107.3 404.4 L1111.6 403.7 L1115.9 403.3 L1120.1 403.4 L1124.4 403.9 L1128.5 404.8 L1132.5 406.1 L1136.4 407.8 L1140.2 409.9 L1143.7 412.4 L1147 415.2 L1150 418.3"/>
<path class="dp" d="M1096.4 499.3 L1093.3 497.5 L1090.4 495.5 L1087.7 493.2 L1085.1 490.6 L1082.8 487.8 L1080.7 484.7 L1078.9 481.5 L1077.3 478.1 L1076 474.5 L1074.9 470.8 L1074.2 467 L1073.7 463.1 L1073.6 459.2 L1073.7 455.3 L1074.1 451.3 L1074.8 447.4 L1075.8 443.6 L1077.1 439.8 L1078.7 436.2 L1080.5 432.6 L1082.5 429.3 L1084.8 426.1 L1087.3 423.1 L1090 420.4 L1092.9 417.9 L1096 415.6 L1099.2 413.7 L1102.5 412 L1105.9 410.6 L1109.4 409.6 L1112.9 408.8 L1116.5 408.4 L1120 408.3 L1123.5 408.5 L1127 409.1 L1130.4 410 L1133.8 411.2 L1137 412.7 L1140 414.5 L1142.9 416.5"/>
<path class="dp" d="M1094.7 491.6 L1092.6 489.7 L1090.5 487.6 L1088.7 485.4 L1086.9 483 L1085.4 480.4 L1084 477.7 L1082.9 474.9 L1081.9 472 L1081.1 469 L1080.6 465.9 L1080.2 462.8 L1080.1 459.6 L1080.1 456.4 L1080.4 453.2 L1080.9 450 L1081.6 446.9 L1082.5 443.8 L1083.6 440.8 L1084.8 437.8 L1086.3 435 L1088 432.2 L1089.8 429.6 L1091.8 427.2 L1093.9 424.9 L1096.1 422.7 L1098.5 420.8 L1101 419 L1103.6 417.5 L1106.3 416.1 L1109 415 L1111.8 414.1 L1114.6 413.4 L1117.4 413 L1120.3 412.8 L1123.1 412.8 L1125.9 413.1 L1128.7 413.6 L1131.4 414.4 L1134.1 415.3 L1136.7 416.5"/>
<path class="dp" d="M1072.6 498.7 L1070.6 496.2 L1068.6 493.6 L1066.9 490.9 L1065.2 488.1 L1063.8 485.2 L1062.5 482.1 L1061.3 479 L1060.3 475.9 L1059.5 472.6 L1058.9 469.3 L1058.4 466 L1058.2 462.6 L1058.1 459.2 L1058.1 455.8 L1058.4 452.4 L1058.8 449 L1059.4 445.6 L1060.2 442.3 L1061.2 439 L1062.3 435.7 L1063.6 432.6 L1065 429.4 L1066.6 426.4 L1068.4 423.5 L1070.3 420.7 L1072.3 418 L1074.5 415.4 L1076.8 413 L1079.2 410.6 L1081.7 408.5 L1084.3 406.5 L1087.1 404.6 L1089.9 402.9 L1092.7 401.4 L1095.7 400 L1098.7 398.9 L1101.7 397.9 L1104.8 397.1 L1108 396.5 L1111.1 396.1"/>
<path class="dp" d="M1151.5 417.6 L1153.1 419.6 L1154.7 421.7 L1156.1 423.9 L1157.4 426.2 L1158.7 428.6 L1159.7 431 L1160.7 433.5 L1161.6 436.1 L1162.3 438.7 L1162.9 441.4 L1163.4 444.1 L1163.7 446.9 L1163.9 449.6 L1164 452.4 L1163.9 455.2 L1163.7 458 L1163.4 460.8 L1162.9 463.6 L1162.4 466.4 L1161.6 469.1 L1160.8 471.8 L1159.8 474.5 L1158.7 477.1 L1157.5 479.6 L1156.2 482.1 L1154.8 484.5 L1153.2 486.9 L1151.6 489.1 L1149.9 491.3 L1148 493.3 L1146.1 495.3 L1144.1 497.1 L1142 498.8 L1139.8 500.5 L1137.6 502 L1135.3 503.3 L1133 504.6 L1130.6 505.7 L1128.1 506.6 L1125.7 507.5"/>
<ellipse class="dp" cx="1119" cy="459.8" rx="17.2" ry="20.2" transform="rotate(20 1119 459.8)"/>
<ellipse class="d" cx="1118.1" cy="424.5" rx="4.6" ry="5.2" transform="rotate(10 1118.1 424.5)"/>
<ellipse class="d" cx="1118.6" cy="424.5" rx="2.2" ry="2.6" transform="rotate(10 1118.6 424.5)"/>
<ellipse class="d" cx="1133.1" cy="422.3" rx="4.6" ry="5.2" transform="rotate(10 1133.1 422.3)"/>
<ellipse class="d" cx="1133.6" cy="422.3" rx="2.2" ry="2.6" transform="rotate(10 1133.6 422.3)"/>
<ellipse class="d" cx="1151.7" cy="441.8" rx="4.6" ry="5.2" transform="rotate(10 1151.7 441.8)"/>
<ellipse class="d" cx="1152.2" cy="441.8" rx="2.2" ry="2.6" transform="rotate(10 1152.2 441.8)"/>
<ellipse class="d" cx="1138.9" cy="486.5" rx="4.6" ry="5.2" transform="rotate(10 1138.9 486.5)"/>
<ellipse class="d" cx="1139.4" cy="486.5" rx="2.2" ry="2.6" transform="rotate(10 1139.4 486.5)"/>
<ellipse class="d" cx="1100.2" cy="495.5" rx="4.6" ry="5.2" transform="rotate(10 1100.2 495.5)"/>
<ellipse class="d" cx="1100.7" cy="495.5" rx="2.2" ry="2.6" transform="rotate(10 1100.7 495.5)"/>
<ellipse class="d" cx="1085.6" cy="459.7" rx="4.6" ry="5.2" transform="rotate(10 1085.6 459.7)"/>
<ellipse class="d" cx="1086.1" cy="459.7" rx="2.2" ry="2.6" transform="rotate(10 1086.1 459.7)"/>
<path class="s" d="M1114.7 358.4 L1127 358.4"/>
<path class="s" d="M1103.5 511.9 L1114.7 511.9"/>
<path class="t" d="M1023 470 L1023 482"/>
<path class="t" d="M1026.5 470 L1026.5 482"/>
<path class="d" d="M1100.7 205.2 C1099.8 204.8 1095.3 203.7 1092.7 202 C1090.1 200.3 1079.8 193.2 1078.3 190.8 C1076.8 188.4 1078.6 183.1 1079.9 181.2 C1081.2 179.3 1083.9 176.1 1089.5 174.8 C1095.1 173.5 1120.8 172.1 1127.9 170 C1135 167.9 1146.2 159.1 1150.3 157.2 C1154.4 155.3 1160.9 154.4 1163.1 154 C1165.3 153.6 1168.8 154 1169.5 154"/>
<path class="d" d="M1191.9 154 C1195.3 154.9 1216.2 160.3 1220.7 162 C1225.2 163.7 1227.1 167.5 1230.3 168.4 C1233.5 169.3 1245.4 168.1 1247.8 170 C1250.2 171.9 1251 181.6 1251 184.4 C1251 187.2 1249.5 192.3 1247.8 194 C1246.1 195.7 1239.2 198.2 1236.6 198.8 C1234 199.4 1226.8 198.8 1225.5 198.8"/>
<circle class="d" cx="1111" cy="197.8" r="10.2"/>
<circle class="d" cx="1211.7" cy="196.5" r="12.2"/>
<path class="s" d="M1119.9 202 L1126.3 202"/>
<path class="d" d="M1102.3 198.8 L1111.9 189.2 L1121.5 198.8"/>
<path class="d" d="M1100.7 304.3 C1099.6 303.7 1093.7 301.2 1091.1 299.5 C1088.5 297.8 1079.6 292.3 1078.3 289.9 C1077 287.5 1078.2 280.8 1079.9 278.7 C1081.6 276.6 1087.1 273.6 1092.7 272.3 C1098.3 271 1121.2 269.6 1127.9 267.5 C1134.6 265.4 1146.2 256.6 1150.3 254.7 C1154.4 252.8 1161.6 251.9 1163.1 251.5"/>
<path class="t" d="M1159.9 251.5 L1169.5 251.5"/>
<path class="d" d="M1214.3 251.5 C1216.9 251.7 1232.7 251.6 1236.6 253.1 C1240.5 254.6 1246.1 261.1 1247.8 264.3 C1249.5 267.5 1251 276.9 1251 280.3 C1251 283.7 1249.3 291.3 1247.8 293.1 C1246.3 294.9 1240.8 295.4 1238.2 295.7 C1235.6 296 1227 295.7 1225.5 295.7"/>
<circle class="d" cx="1108.7" cy="295.3" r="12.2"/>
<circle class="d" cx="1211.7" cy="294.4" r="12.2"/>
<path class="d" d="M1102.3 296.3 L1110.3 286.7 L1119.9 296.3"/>
<path d="M1119.9 298.5 L1199.9 298.5" stroke="#222" stroke-width="1.6" fill="none"/>
<path d="M1059.2 327.5 L1268.0 327.5" stroke="#777" stroke-width="1" fill="none"/>
<path class="f2" d="M369 578.6 L378.8 573.7 L393.5 584.7 L403.3 590.8 L402.1 598.2 L393.5 598.2 L378.8 594.5 L370.2 587.2 Z"/>
<path class="d" d="M369 578.6 C370.4 576.4 374.7 572.7 378.8 573.7 C382.9 574.7 389.4 581.9 393.5 584.7 C397.6 587.6 401.9 588.5 403.3 590.8 C404.7 593 403.7 597 402.1 598.2 C400.5 599.4 397.4 598.8 393.5 598.2 C389.6 597.6 382.7 596.3 378.8 594.5 C374.9 592.7 371.8 589.9 370.2 587.2 C368.6 584.6 367.6 580.9 369 578.6 Z"/>
<ellipse class="d" cx="377.6" cy="583.5" rx="6" ry="8" transform="rotate(-30 377.6 583.5)"/>
<path class="d3" d="M409.5 600.6 L446.2 620.2 L403.3 635"/>
<ellipse class="b3" cx="453.6" cy="718.3" rx="11" ry="12.5"/>
<ellipse class="d" cx="453.6" cy="718.3" rx="13.5" ry="14.5"/>
<ellipse class="d" cx="453.6" cy="718.3" rx="8" ry="9.5"/>
<ellipse class="b3" cx="452.4" cy="761.2" rx="12.5" ry="14.5" transform="rotate(15 452.4 761.2)"/>
<ellipse class="d" cx="452.4" cy="761.2" rx="14.7" ry="17" transform="rotate(15 452.4 761.2)"/>
<ellipse class="d" cx="452.4" cy="761.2" rx="10" ry="12" transform="rotate(15 452.4 761.2)"/>
<ellipse class="d" cx="455" cy="752" rx="4" ry="3"/>
<path class="s" d="M447.5 777.8 L453.6 777.8"/>
<path class="d" d="M381.2 758.4 C380.1 758.1 375.6 757.4 372.6 755.8 C369.6 754.2 362.2 749 359 746.4 C355.8 743.8 350.6 738.9 348.8 736.2 C347 733.5 346.7 729.2 345.3 726 C343.9 722.8 339.5 715.9 338.5 712.3 C337.5 708.7 337.2 702.3 337.7 698.7 C338.2 695.1 341.9 687.7 341.9 685 C341.9 682.3 338.2 680.9 337.7 678.2 C337.2 675.5 337.5 667.8 338.5 664.6 C339.5 661.4 343 657.3 345.3 654.3 C347.6 651.3 353.1 645.3 355.6 642.4 C358.1 639.5 361.6 634.4 364.1 632.2 C366.6 630 371.3 627 374.3 626.2 C377.3 625.4 383.1 625.2 386.3 626.2 C389.5 627.2 396.2 632.4 398.2 633.9 C400.2 635.4 401.1 636.8 401.6 637.3"/>
<path class="d" d="M394.8 639 C397.1 639.2 408.9 638.9 411.9 640.7 C414.9 642.5 416.3 647.6 417 652.6 C417.7 657.6 416.5 673.2 417 678.2 C417.5 683.2 420.1 685.7 420.4 690.2 C420.7 694.7 419.7 707.1 419.5 712.3 C419.3 717.5 419.7 725.1 418.7 729.4 C417.7 733.7 414 741.1 411.9 744.7 C409.8 748.3 406.3 754.4 403.3 756.7 C400.3 759 392.6 761.6 389.7 761.8 C386.8 762 382.3 758.9 381.2 758.4"/>
<path class="f2" d="M393.9 638.1 L411.9 639.8 L417.3 652.6 L417.3 678.2 L405 675.7 L398.2 674.8 L398.2 661.2 L393.1 650.9 Z"/>
<path class="f1" d="M340.2 677.4 L368.4 678.2 L369.2 698.7 L366.7 720.8 L345.3 724.3 L338.5 712.3 L337.7 698.7 L341.9 685 Z"/>
<path class="f2" d="M372.6 746.4 L381.2 743 L408.4 744.7 L403.3 756.7 L389.7 761.8 L381.2 758.4 Z"/>
<path class="d" d="M369.2 674.8 C370.9 674.5 376.1 672.8 379.5 673.1 C382.9 673.4 386 676.1 389.7 676.5 C393.4 676.9 397.1 675.4 401.6 675.7 C406.2 676 414.4 677.8 417 678.2"/>
<path class="d" d="M369.2 674.8 C368.8 676.8 366.7 682.7 366.7 686.7 C366.7 690.7 369.3 693.3 369.2 698.7 C369.1 704.1 366.1 712.9 365.8 719.1 C365.5 725.4 366.1 730.8 367.5 736.2 C368.9 741.6 373.2 749 374.3 751.5"/>
<path class="d" d="M379.5 678.2 C379.8 681.1 379.8 690.8 381.2 695.3 C382.6 699.8 386.3 701.5 388 705.5 C389.7 709.5 391.7 713.4 391.4 719.1 C391.1 724.8 386.6 734.2 386.3 739.6 C386 745 389.1 749.5 389.7 751.5"/>
<path class="d" d="M381.2 712.3 C380.3 714.6 376.6 721.5 376 726 C375.4 730.5 377.4 737.3 377.7 739.6"/>
<path class="d" d="M341.9 685 C343.3 683.9 347.4 678.5 350.5 678.2 C353.6 677.9 358 681.9 360.7 683.3 C363.4 684.7 365.7 686.1 366.7 686.7"/>
<path class="d2" d="M346.2 690.2 L346.2 707.2"/>
<path class="s" d="M351.3 691 L351.3 704.6"/>
<path class="d2" d="M359.8 693.6 L359.8 703.8"/>
<path class="t" d="M364.1 707.2 L364.1 715.7"/>
<path class="s" d="M394.5 649.2 L394.5 656"/>
<path class="s" d="M396.5 664.6 L396.5 672.2"/>
<path class="d2" d="M373.5 666.3 L381.2 655.2 L385.4 650.9"/>
<path class="t" d="M374.3 756.7 L374.3 795"/>
<path class="t" d="M337.7 669.7 L337.7 675.7"/>
<path class="d" d="M355.6 642.4 L358.1 640.7"/>
<circle class="d" cx="374.5" cy="819" r="23.5"/>
<path class="d2" d="M363 826.3 L368.5 815.5 L383 810 L390.2 801"/>
<path class="d2" d="M366.7 830 L372.1 819.1 L386.6 813.6 L393.8 804.6"/>
<path class="d2" d="M375.7 810 L383 806.4"/>
<path class="d2" d="M383 819.1 L390.2 813.6"/>
<path class="s" d="M370.3 840.8 L377.5 840.8"/>
<path class="s" d="M368.5 796.6 L377.5 796.6"/>
<circle class="d" cx="303.3" cy="594.6" r="9"/>
<circle class="f2" cx="303.3" cy="594.6" r="8.5"/>
<circle class="d" cx="303.3" cy="594.6" r="4"/>
<path class="f2" d="M318 604 L326.2 599.3 L345 611 L359 620.4 L356.7 625.1 L342.6 620.4 L321.6 613.4 Z"/>
<path class="d" d="M318 604 C318.8 601.6 321.7 598.1 326.2 599.3 C330.7 600.5 339.5 607.5 345 611 C350.5 614.5 357.1 618 359 620.4 C360.9 622.8 359.4 625.1 356.7 625.1 C354 625.1 348.5 622.4 342.6 620.4 C336.8 618.4 325.7 616.1 321.6 613.4 C317.5 610.7 317.2 606.4 318 604 Z"/>
<path class="f3" d="M203.2 686 L207.9 683.7 L270 718.8 L267.7 724.7 L260.6 724.7 L204.4 691.9 Z"/>
<path class="d" d="M203.2 686 L207.9 683.7 L270 718.8 L267.7 724.7 L260.6 724.7 L204.4 691.9 Z"/>
<path class="f3" d="M281.7 670.8 L291.1 668.4 L309.8 680.1 L312.2 701.2 L325.1 715.3 L323.9 731.7 L312.2 734 L309.8 755.1 L300.5 756.3 L288.7 743.4 L277 738.7 L281.7 720 L274.7 691.9 Z"/>
<path class="f3" d="M284.1 673.1 L307.5 682.5 L307.5 691.9 L284.1 682.5 Z"/>
<path class="f3" d="M277 694.2 L321.6 717.6 L321.6 729.4 L277 705.9 Z"/>
<path class="d" d="M281.7 670.8 L291.1 668.4 L309.8 680.1 L307.5 691.9 L284.1 682.5 Z"/>
<path class="d" d="M274.7 691.9 L307.5 710.6 L325.1 716.5 L323.9 731.7 L307.5 727 L275.9 705.9 Z"/>
<path class="d" d="M281.7 720 L277 738.7 L288.7 743.4 L300.5 756.3 L309.8 755.1 L312.2 734"/>
<path class="d" d="M284.1 682.5 L281.7 720"/>
<path class="d" d="M307.5 691.9 L307.5 710.6"/>
<path class="s" d="M297.4 701.2 L297.4 717.6"/>
<path class="s" d="M307.5 704.8 L307.5 714.1"/>
<path class="d2" d="M288.7 724.7 L288.7 738.7"/>
<path class="d2" d="M295.8 731.7 L295.8 743.4"/>
<path class="d" d="M646.7 547.6 L654.4 541.2 L683.8 562.3 L682.6 569.4 L676.2 570 L645.4 555.3 Z"/>
<path class="f3" d="M646.7 547.6 L654.4 541.2 L683.8 562.3 L682.6 569.4 L676.2 570 L645.4 555.3 Z"/>
<ellipse class="d" cx="656.3" cy="557.2" rx="3" ry="4" transform="rotate(-30 656.3 557.2)"/>
<ellipse class="d" cx="650.5" cy="550.8" rx="4" ry="6" transform="rotate(-30 650.5 550.8)"/>
<path class="d" d="M659.5 549.5 L668.5 555.9 L678.7 558.5"/>
<path class="d" d="M653.1 557.2 L672.3 567.4"/>
<path class="d" d="M689 572.6 L696.7 567.4 L734.5 587.9 L734.5 596.9 L728.7 600.8 L689 579.6 Z"/>
<path class="d" d="M724.9 589.9 L724.9 598.2"/>
<path class="d" d="M690.3 576.4 L724.9 595.6"/>
<path class="s" d="M728.7 587.3 L732.6 587.3"/>
<path class="d" d="M661.4 585.4 L665.3 582.2 L694.1 600.8 L692.8 608.5 L685.1 605.3 L662.1 589.9 Z"/>
<path class="d" d="M686.4 596.9 L690.3 603.3"/>
<path class="d" d="M683.8 602.1 L691.5 599.5"/>
<path class="s" d="M697.9 607.2 L715.3 616.2 L751.2 607.6"/>
<path class="s" d="M734.5 596.9 L760.1 611.7"/>
<path class="d" d="M760.1 614.9 L765.9 609.1 L796.7 626.4"/>
<path class="d" d="M760.1 614.9 L777.4 629 L781.3 629"/>
<path class="s" d="M765.3 609.1 L768.5 608.5"/>
<path class="d" d="M761 538.4 L778 517 L806.8 513.9 L819.6 523.4 L830.2 527.7 L845.1 525.6 L849.4 530.9 L847.3 545.8 L838.8 550.1 L819.6 555.4 L808.9 557.5 L790.8 561.8 L778 557.5 L761 541.6 Z"/>
<path class="f3" d="M761 538.4 L778 517 L806.8 513.9 L819.6 523.4 L830.2 527.7 L845.1 525.6 L849.4 530.9 L847.3 545.8 L838.8 550.1 L819.6 555.4 L808.9 557.5 L790.8 561.8 L778 557.5 L761 541.6 Z"/>
<path class="d" d="M778 517 L794 536.2 L808.9 555.4"/>
<path class="d" d="M798.3 519.2 L815.3 538.4 L830.2 542.6"/>
<path class="d" d="M766.3 534.1 L787.6 544.7 L806.8 553.3"/>
<path class="d" d="M781.2 541.6 L790.8 551.1"/>
<path class="d" d="M783.4 545.8 L789.7 545.8"/>
<path class="d" d="M823.8 526.6 L838.8 529.8 L847.3 528.8"/>
<path class="d" d="M815.3 538.4 L832.4 534.1"/>
<path class="d" d="M819.6 555.4 L826 566.1 L836.6 570.3"/>
<path class="d" d="M838.8 550.1 L847.3 553.3"/>
<path class="t" d="M778 551.1 L778 557.5"/>
<path class="s" d="M835.6 554.3 L835.6 565"/>
<path class="t" d="M844.1 555.4 L844.1 568.2"/>
<path class="t" d="M848.3 555.4 L848.3 612.9"/>
<path class="s" d="M830.2 561.8 L830.2 572.4"/>
<path class="s" d="M830.2 597 L830.2 604.4"/>
<path class="d" d="M830.2 574.6 L839.8 581 L839.8 593.8 L831.3 593.8"/>
<path class="t" d="M817.4 557.5 L817.4 589.5"/>
<path class="d" d="M765.2 608.7 L774.8 610.8 L808.9 622.5 L816.4 610.8"/>
<path class="s" d="M805.7 620.4 L808.9 623.2 L805.7 626.1"/>
<path class="d" d="M765.2 608.7 L759.9 612.9 L774.8 627.8 L779.1 627.8"/>
<path class="s" d="M788.7 627.8 L788.7 639.6"/>
<path class="s" d="M779.1 623.6 L779.1 630"/>
<path class="d" d="M780.2 638.5 L808.9 647 L847.3 625.7"/>
<path class="d" d="M780.2 638.5 L780.2 644.9 L802.5 657.7 L802.5 649.2"/>
<path class="t" d="M808.9 647 L828.1 619.3"/>
<path class="t" d="M801.5 649.2 L801.5 658.7"/>
<circle class="d" cx="839.8" cy="635.3" r="4"/>
<path class="d" d="M847.3 619.3 L847.3 627.8"/>
<path class="d" d="M770.6 670.5 L787.6 659.8 L806.8 657.7 L817.4 661.9 L817.4 676.9 L834.5 685.4 L815.3 691.8 L794 691.8 L772.7 681.1 Z"/>
<path class="d" d="M772.7 668.3 L815.3 661.9"/>
<path class="d" d="M775.9 673 L816.6 666.6"/>
<path class="d" d="M779.1 677.7 L817.9 671.3"/>
<path class="d" d="M782.3 682.4 L819.2 676"/>
<path class="d" d="M785.5 687.1 L820.4 680.7"/>
<path class="d" d="M788.7 691.8 L821.7 685.4"/>
<path class="d" d="M818.5 658.7 L834.5 653.4 L849.4 647"/>
<path class="d" d="M818.5 658.7 L818.5 668.3 L830.2 673.7 L845.1 670.5 L849.4 666.2"/>
<path class="s" d="M830.2 666.2 L830.2 673.7"/>
<path class="s" d="M845.1 673.7 L845.1 683.3 L849 682.8"/>
<path class="t" d="M821.7 668.3 L821.7 676.9"/>
<path class="t" d="M836.6 668.3 L836.6 676.9"/>
<path class="d" d="M821.7 661.9 L843 668.3"/>
<path class="d" d="M834.5 685.4 L845.1 683.3"/>
<path class="b5" d="M553.4 407.6 C554.8 408.5 559.7 409.9 561.6 413.2 C563.5 416.5 564.9 423 565 427.4 C565.1 431.8 563.3 434.9 562.2 439.6 C561.1 444.3 559.2 449.7 558.5 455.8 C557.8 461.9 557.1 470 557.9 476.1 C558.6 482.2 561.8 486.9 563 492.3 C564.2 497.7 565.4 503.3 565 508.5 C564.6 513.7 562.4 521.7 560.5 523.7 C558.6 525.7 554.6 521.2 553.4 520.7"/>
<path class="d" d="M546.4 445.7 L556.5 438.6"/>
<path class="d" d="M544.3 496.4 L550.4 500.8 L555.5 496.4"/>
<path class="s" d="M548.4 500.4 L550.8 500.4"/>
<path class="d" d="M605.1 437.6 C606.6 439.3 612.3 444.3 614.3 447.7 C616.3 451.1 617.6 455.1 617.3 457.8 C616.9 460.5 612.5 460.8 612.2 463.9 C611.9 466.9 615 472.7 615.3 476.1 C615.5 479.5 614 482.9 613.7 484.2"/>
<path class="d3" d="M608.2 438.6 C609.6 440.5 614.6 446.5 616.3 449.7 C618 452.9 618 456.4 618.3 457.8"/>
<path class="t" d="M613.7 484.2 L613.7 505.5"/>
<path class="d" d="M614.3 505.5 C614.5 507.4 616.1 513.1 615.3 516.6 C614.4 520.1 609.2 523.4 609.2 526.8 C609.2 530.2 615.3 532.7 615.3 536.9 C615.3 541.1 610.7 549.7 609.2 552.1 C607.7 554.5 606.7 551.3 606.2 551.1"/>
<path class="d3" d="M617.3 516.6 C616.4 518.5 612.2 524.4 612.2 527.8 C612.2 531.2 617.5 533 617.3 536.9 C617.1 540.8 612.2 548.7 611.2 551.1"/>
<path class="d" d="M604.1 459.9 L612.2 462.3"/>
<path class="f3" d="M893.6 571.2 L901.7 569 L927.1 578.5 L938.8 583.9 L954.2 593.9 L951.5 610.2 L936.1 610.6 L915.3 605.6 L923.4 595.7 L907.1 585.7 L893.6 579.4 Z"/>
<path class="d3" d="M893.6 571.2 C894.4 570.2 898.4 568.3 901.7 569 C905.1 569.7 923.4 577 927.1 578.5 C930.8 580 936.1 582.4 938.8 583.9 C941.5 585.4 952.9 591.3 954.2 593.9 C955.5 596.5 953.3 608.5 951.5 610.2 C949.7 611.9 939.7 611.1 936.1 610.6 C932.5 610.1 916.6 607.1 915.3 605.6 C914 604.1 924.2 597.7 923.4 595.7 C922.6 593.7 910.1 587.3 907.1 585.7 C904.1 584.1 895 580.9 893.6 579.4 C892.2 577.9 892.8 572.2 893.6 571.2 Z"/>
<path class="s" d="M939.3 599.8 L939.3 609.7"/>
<path class="s" d="M907.1 572.1 L911.2 572.1"/>
<path class="s" d="M925.2 590.2 L926.6 593 L925.2 595.7"/>
<path class="f3" d="M965.2 360.2 L976.4 360.2 L988.4 363.4 L1001.2 364.2 L1009.2 373 L1009.2 382.6 L999.6 388.9 L985.2 386.6 L980.4 374.6 L966 366.6 Z"/>
<path class="d3" d="M965.2 360.2 C966.2 359.6 974.1 359.9 976.4 360.2 C978.7 360.5 985.9 363 988.4 363.4 C990.9 363.8 999.1 363.2 1001.2 364.2 C1003.3 365.2 1008.4 371.2 1009.2 373 C1010 374.8 1010.2 381 1009.2 382.6 C1008.2 384.2 1002 388.5 999.6 388.9 C997.2 389.3 987.1 388 985.2 386.6 C983.3 385.2 982.3 376.6 980.4 374.6 C978.5 372.6 967.5 368 966 366.6 C964.5 365.2 964.2 360.8 965.2 360.2 Z"/>
<circle class="d3" cx="993.2" cy="376.2" r="5"/>
<path class="f3" d="M1200 468.6 L1204.8 467 L1218.4 473.4 L1231.2 477.4 L1232.8 486.2 L1228 492.6 L1220 495 L1212 490.2 L1213.6 483 L1200 475.8 Z"/>
<path class="d3" d="M1200 468.6 C1200.5 467.7 1203 466.5 1204.8 467 C1206.6 467.5 1215.8 472.4 1218.4 473.4 C1221 474.4 1229.8 476.1 1231.2 477.4 C1232.6 478.7 1233.1 484.7 1232.8 486.2 C1232.5 487.7 1229.3 491.7 1228 492.6 C1226.7 493.5 1221.6 495.2 1220 495 C1218.4 494.8 1212.6 491.4 1212 490.2 C1211.4 489 1214.8 484.4 1213.6 483 C1212.4 481.6 1201.4 477.2 1200 475.8 C1198.6 474.4 1199.5 469.5 1200 468.6 Z"/>
<path class="t" d="M1219.2 472.4 L1224.4 472.4"/>
<path class="s" d="M1220.4 494.6 L1224.4 494.6"/>
<path class="f3" d="M729 492.2 L732.8 484.5 L741.7 482.6 L749.4 492.2 L764.8 501.2 L766 507.5 L760.9 510.1 L745.6 505 L732.8 501.2 Z"/>
<path class="d3" d="M729 492.2 C729 490.5 731.5 485.5 732.8 484.5 C734.1 483.5 740 481.8 741.7 482.6 C743.4 483.4 747.1 490.3 749.4 492.2 C751.7 494.1 763.1 499.7 764.8 501.2 C766.5 502.7 766.4 506.6 766 507.5 C765.6 508.4 762.9 510.4 760.9 510.1 C758.9 509.9 748.4 505.9 745.6 505 C742.8 504.1 734.5 502.5 732.8 501.2 C731.1 499.9 729 493.9 729 492.2 Z"/>
<circle class="d" cx="695.5" cy="830.6" r="23.5"/>
<path class="dp" d="M630.4 749.6 L583.5 764.5 L675.2 813.5"/>
<path class="dp" d="M660.3 805 L707.2 792.2"/>
<path class="dp" d="M724.3 841.2 L779.7 824.2"/>
<path class="dp" d="M720 843.4 L792.8 885.3 L837 872.8"/>
<path class="b9" d="M630.9 702.6 C631.1 701.1 631.3 690 632.6 687.7 C633.9 685.4 639.4 680.9 644.3 679.2 C649.2 677.5 677.1 671.1 681.6 670.7 C686.1 670.3 688.4 674.5 689.1 674.9"/>
<path class="s" d="M690.1 674.9 L690.1 686.7"/>
<path class="d2" d="M686.9 687.7 L686.9 724"/>
<path class="d" d="M690.1 724 L690.1 749.6"/>
<path class="b4" d="M645.4 722.3 L685.9 713.7"/>
<path class="f0" d="M628.3 734.6 L645.4 732.5 L653.9 758.1 L639 753.8 L629.4 745.3 Z"/>
<path class="d" d="M653.9 758.1 L690.1 749.6"/>
<path class="s" d="M634.7 710.1 L634.7 716.5"/>
<path class="s" d="M637.9 710.1 L637.9 716.5"/>
<path class="d2" d="M649.6 689.9 L649.6 711.2"/>
<path class="d" d="M649.6 732.5 L651.3 753.8"/>
<path class="b9" d="M704 742.1 C704.1 740.8 704.4 731.5 705.5 729.3 C706.6 727.1 710.7 721.7 714.7 719.7 C718.7 717.7 741.9 709.8 745.6 709 C749.3 708.2 750.9 711.9 751.5 712.2"/>
<path class="d2" d="M753 724 L753 775.1"/>
<path class="t" d="M755.2 775.1 L755.2 785.8"/>
<circle class="b5" cx="733.8" cy="740" r="7.5"/>
<circle class="b5" cx="733.8" cy="770.9" r="8.5"/>
<path class="t" d="M709.3 745.3 L709.3 779.4"/>
<path class="s" d="M718.9 757 L718.9 774.1"/>
<path class="f0" d="M700.8 766.6 L711.5 770.9 L713.6 787.9 L755.2 781.5 L755.2 786.9 L724.3 795.4 L707.2 793.3 Z"/>
<path class="d" d="M707.2 793.3 L724.3 795.4 L755.2 786.9"/>
<path class="b9" d="M769 782.6 C769.2 781.2 769.8 771.2 770.8 769 C771.8 766.8 774.5 762.7 779 760.8 C783.5 758.9 811.4 750.5 816.1 749.9 C820.8 749.3 825.1 754 826.1 754.5"/>
<path class="s" d="M827.5 755.4 L827.5 764.4"/>
<path class="d2" d="M824.3 766.3 L824.3 784.4"/>
<path class="d2" d="M825.2 802.5 L826.1 817"/>
<path class="s" d="M827 818.8 L827 828.8"/>
<path class="b4" d="M779.9 800.1 L823.4 792.9"/>
<path class="t" d="M772.6 790.7 L772.6 807.9"/>
<path class="t" d="M775.3 790.7 L775.3 807.9"/>
<path class="d2" d="M788 771.7 L788 788"/>
<path class="s" d="M772.6 790.7 L772.6 795.3"/>
<path class="s" d="M776.3 790.7 L776.3 794.3"/>
<path class="f0" d="M766.3 815.2 L788.9 813.4 L790.8 836.9 L772.6 832.4 Z"/>
<path class="d" d="M790.8 836.9 L827 829.7"/>
<path class="d" d="M788 813.4 L788.9 835.1"/>
<path class="t" d="M750.9 746.3 L750.9 757.2"/>
<path class="t" d="M755.4 775.3 L755.4 786.2"/>
<path class="b9" d="M839.7 817 C840 816 841.3 809 842.4 807 C843.5 805 846.8 798.6 850.9 796.7 C855 794.8 879.5 788.2 883.2 787.6 C886.9 787 887.8 790.4 888.3 790.7"/>
<circle class="b5" cx="870.5" cy="817" r="8.5"/>
<circle class="b5" cx="872.3" cy="851.4" r="8.5"/>
<path class="d2" d="M890.4 802.5 L890.4 856.9"/>
<path class="s" d="M857.5 838.8 L857.5 855.1"/>
<path class="f0" d="M837 847.8 L848.8 849.6 L850.6 867.8 L890.4 862.3 L890.4 866.8 L866.9 872.3 L841.5 874.1 Z"/>
<path class="d" d="M841.5 874.1 L866.9 872.3 L890.4 866.8"/>
<path class="d" d="M837.9 820.6 L856 820.6"/>
</svg>
<div class="hl"></div>
<div class="foot">210 - 210663 - E280</div>
</body></html>
